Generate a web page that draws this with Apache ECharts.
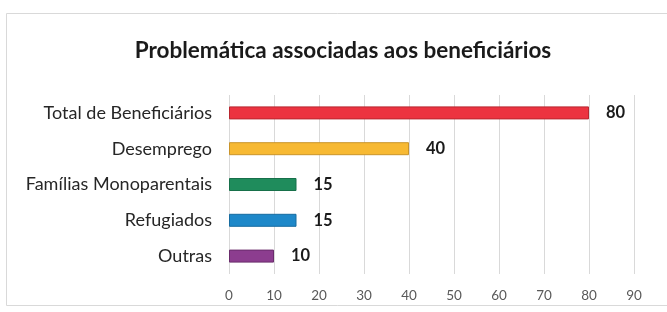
<!DOCTYPE html>
<html>
<head>
<meta charset="utf-8">
<script src="https://cdn.jsdelivr.net/npm/echarts@6/dist/echarts.min.js"></script>
<style>
html,body{margin:0;padding:0;background:#fff;}
#c{width:667px;height:312px;}
</style>
</head>
<body>
<div id="c"></div>
<script>
var categories = ['Total de Beneficiários', 'Desemprego', 'Famílias Monoparentais', 'Refugiados', 'Outras'];
var values = [80, 40, 15, 15, 10];
var barColors = ['#EC3340', '#F7B933', '#1F8C5C', '#1E88C9', '#8C3D8F'];
var borderColors = ['#B8262F', '#C9942A', '#17704A', '#176CA0', '#6A2C6C'];
var xTicks = [0, 10, 20, 30, 40, 50, 60, 70, 80, 90];

var chart = echarts.init(document.getElementById('c'));
chart.setOption({
  animation: false,
  backgroundColor: '#fff',
  textStyle: { fontFamily: 'Lato' },
  graphic: [{
    type: 'rect',
    shape: { x: 6.5, y: 13.5, width: 680, height: 292 },
    style: { fill: 'none', stroke: '#d9d9d9', lineWidth: 1 },
    silent: true
  }],
  title: {
    text: 'Problemática associadas aos beneficiários',
    left: 338, top: 34, textAlign: 'center',
    textStyle: { fontFamily: 'Lato', fontWeight: 'bold', fontSize: 22.5, color: '#1a1a1a' }
  },
  grid: { left: 229, right: 33, top: 95, bottom: 38, containLabel: false },
  xAxis: {
    type: 'value', min: 0, max: 90, interval: 10,
    axisLine: { show: false }, axisTick: { show: false },
    splitLine: { show: true, lineStyle: { color: '#d9d9d9', width: 1 } },
    axisLabel: {
      margin: 15, color: '#595959', fontSize: 13.5, fontFamily: 'Lato',
      formatter: function (v) { return xTicks.indexOf(v) >= 0 ? String(v) : ''; }
    }
  },
  yAxis: {
    type: 'category', inverse: true, data: categories,
    axisLine: { show: false }, axisTick: { show: false },
    axisLabel: { margin: 17, color: '#262626', fontSize: 18, fontFamily: 'Lato' }
  },
  series: [{
    type: 'bar',
    barWidth: 13,
    data: values.map(function (v, i) {
      return { value: v, itemStyle: { color: barColors[i], borderColor: borderColors[i], borderWidth: 1 } };
    }),
    label: {
      show: true, position: 'right', distance: 17,
      color: '#1a1a1a', fontWeight: 'bold', fontSize: 16.5, fontFamily: 'Lato'
    }
  }]
});
</script>
</body>
</html>
